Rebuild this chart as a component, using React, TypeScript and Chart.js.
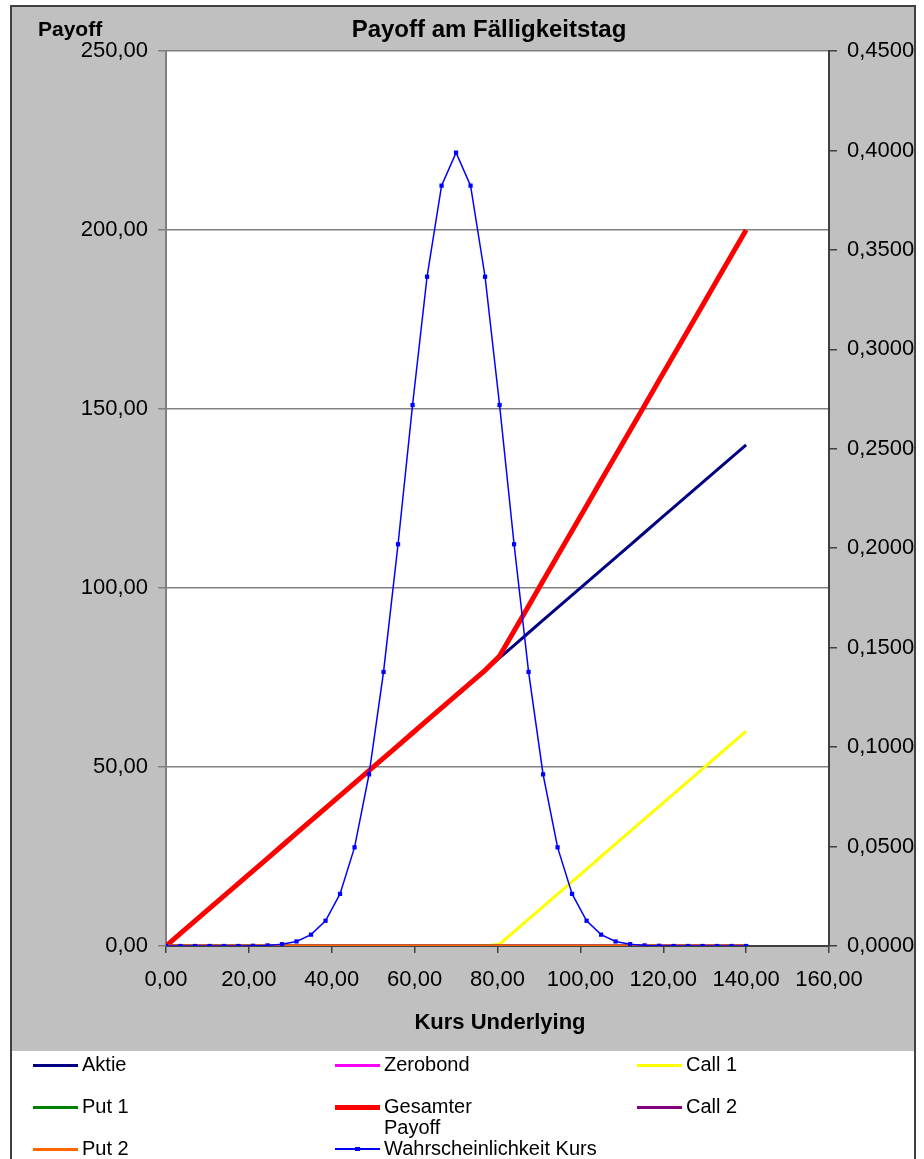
import React, { useEffect, useRef } from "react";
import { Chart, registerables } from "chart.js";

Chart.register(...registerables);

const FONT = "'Liberation Sans', Arial, sans-serif";

const kurs = [0, 3.5, 7, 10.5, 14, 17.5, 21, 24.5, 28, 31.5, 35, 38.5, 42, 45.5, 49, 52.5, 56, 59.5, 63, 66.5, 70, 73.5, 77, 80.5, 84, 87.5, 91, 94.5, 98, 101.5, 105, 108.5, 112, 115.5, 119, 122.5, 126, 129.5, 133, 136.5, 140];

const aktie = [0, 3.5, 7, 10.5, 14, 17.5, 21, 24.5, 28, 31.5, 35, 38.5, 42, 45.5, 49, 52.5, 56, 59.5, 63, 66.5, 70, 73.5, 77, 80.5, 84, 87.5, 91, 94.5, 98, 101.5, 105, 108.5, 112, 115.5, 119, 122.5, 126, 129.5, 133, 136.5, 140];

const zerobond = [0, 0, 0, 0, 0, 0, 0, 0, 0, 0, 0, 0, 0, 0, 0, 0, 0, 0, 0, 0, 0, 0, 0, 0, 0, 0, 0, 0, 0, 0, 0, 0, 0, 0, 0, 0, 0, 0, 0, 0, 0];

const call1 = [0, 0, 0, 0, 0, 0, 0, 0, 0, 0, 0, 0, 0, 0, 0, 0, 0, 0, 0, 0, 0, 0, 0, 0.5, 4, 7.5, 11, 14.5, 18, 21.5, 25, 28.5, 32, 35.5, 39, 42.5, 46, 49.5, 53, 56.5, 60];

const put1 = [0, 0, 0, 0, 0, 0, 0, 0, 0, 0, 0, 0, 0, 0, 0, 0, 0, 0, 0, 0, 0, 0, 0, 0, 0, 0, 0, 0, 0, 0, 0, 0, 0, 0, 0, 0, 0, 0, 0, 0, 0];

const gesamt = [0, 3.5, 7, 10.5, 14, 17.5, 21, 24.5, 28, 31.5, 35, 38.5, 42, 45.5, 49, 52.5, 56, 59.5, 63, 66.5, 70, 73.5, 77, 81, 88, 95, 102, 109, 116, 123, 130, 137, 144, 151, 158, 165, 172, 179, 186, 193, 200];

const call2 = [0, 0, 0, 0, 0, 0, 0, 0, 0, 0, 0, 0, 0, 0, 0, 0, 0, 0, 0, 0, 0, 0, 0, 0, 0, 0, 0, 0, 0, 0, 0, 0, 0, 0, 0, 0, 0, 0, 0, 0, 0];

const put2 = [0, 0, 0, 0, 0, 0, 0, 0, 0, 0, 0, 0, 0, 0, 0, 0, 0, 0, 0, 0, 0, 0, 0, 0, 0, 0, 0, 0, 0, 0, 0, 0, 0, 0, 0, 0, 0, 0, 0, 0, 0];

const wahrscheinlichkeit = [0, 0, 0, 0, 0, 0, 0.0001, 0.0003, 0.0009, 0.0023, 0.0057, 0.0127, 0.0262, 0.0496, 0.0863, 0.1378, 0.202, 0.272, 0.3365, 0.3823, 0.3989, 0.3823, 0.3365, 0.272, 0.202, 0.1378, 0.0863, 0.0496, 0.0262, 0.0127, 0.0057, 0.0023, 0.0009, 0.0003, 0.0001, 0, 0, 0, 0, 0, 0];

const seriesNames = ["Aktie", "Zerobond", "Call 1", "Put 1", "Gesamter Payoff", "Call 2", "Put 2", "Wahrscheinlichkeit Kurs"];
const seriesColors = ["#000080", "#FF00FF", "#FFFF00", "#008000", "#FF0000", "#800080", "#FF6600", "#0000FF"];
const seriesWidths = [3, 3, 3, 3, 5, 3, 3, 1.5];
const seriesValues = [aktie, zerobond, call1, put1, gesamt, call2, put2, wahrscheinlichkeit];

const xTicks = [0, 20, 40, 60, 80, 100, 120, 140, 160];
const titleText = "Payoff am Fälligkeitstag";
const yAxisText = "Payoff";
const xAxisText = "Kurs Underlying";

const fmt = (v: number, d: number) => Number(v).toFixed(d).replace(".", ",");

const bgPlugin = {
  id: "plotBg",
  beforeDraw(chart: any) {
    const { ctx, chartArea } = chart;
    ctx.save();
    ctx.fillStyle = "#FFFFFF";
    ctx.fillRect(chartArea.left, chartArea.top, chartArea.right - chartArea.left, chartArea.bottom - chartArea.top);
    ctx.restore();
  },
};

function ChartCanvas() {
  const ref = useRef<HTMLCanvasElement | null>(null);
  useEffect(() => {
    if (!ref.current) return;
    const datasets = seriesValues.map((vals, i) => {
      const isProb = i === 7;
      return {
        label: seriesNames[i],
        data: kurs.map((x, j) => ({ x, y: vals[j] })),
        borderColor: seriesColors[i],
        backgroundColor: seriesColors[i],
        borderWidth: seriesWidths[i],
        pointRadius: isProb ? 3 : 0,
        pointStyle: "rect",
        pointBorderWidth: 0,
        pointBackgroundColor: seriesColors[i],
        tension: 0,
        fill: false,
        yAxisID: isProb ? "y2" : "y",
        order: 7 - i,
      };
    });
    const tickFont = { family: FONT, size: 22 };
    const chart = new Chart(ref.current, {
      type: "line",
      data: { datasets },
      plugins: [bgPlugin],
      options: {
        responsive: false,
        animation: false,
        devicePixelRatio: 1,
        layout: { padding: { top: 51, left: 0, right: 0, bottom: 0 } },
        plugins: {
          legend: { display: false },
          title: { display: false },
          tooltip: { enabled: false },
        },
        scales: {
          x: {
            type: "linear",
            position: "bottom",
            min: 0,
            max: 160,
            afterBuildTicks: (s: any) => {
              s.ticks = xTicks.map((v) => ({ value: v }));
            },
            ticks: {
              color: "#000",
              font: tickFont,
              padding: 14,
              maxRotation: 0,
              autoSkip: false,
              callback: (v: any) => fmt(v, 2),
            },
            grid: { drawOnChartArea: false, drawTicks: true, tickLength: 7, color: "#404040", lineWidth: 1.5 },
            border: { color: "#404040", width: 2 },
            afterFit: (s: any) => {
              s.height = 213;
            },
          },
          y: {
            position: "left",
            min: 0,
            max: 250,
            ticks: {
              stepSize: 50,
              color: "#000",
              font: tickFont,
              padding: 10,
              callback: (v: any) => fmt(v, 2),
            },
            grid: { color: "#808080", lineWidth: 1.5, tickLength: 8, drawTicks: true },
            border: { color: "#808080", width: 2 },
            afterFit: (s: any) => {
              s.width = 166;
            },
          },
          y2: {
            position: "right",
            min: 0,
            max: 0.45,
            ticks: {
              stepSize: 0.05,
              color: "#000",
              font: tickFont,
              padding: 10,
              callback: (v: any) => fmt(v, 4),
            },
            grid: { drawOnChartArea: false, drawTicks: true, tickLength: 8, color: "#404040", lineWidth: 1.5 },
            border: { color: "#404040", width: 2 },
            afterFit: (s: any) => {
              s.width = 95;
            },
          },
        },
      } as any,
    });
    return () => chart.destroy();
  }, []);
  return (
    <canvas
      ref={ref}
      width={924}
      height={1159}
      style={{ position: "absolute", left: 0, top: 0, width: 924, height: 1159 }}
    />
  );
}

function LegendItem({ i, left, top }: { i: number; left: number; top: number }) {
  const name = seriesNames[i];
  const isProb = i === 7;
  return (
    <div style={{ position: "absolute", left, top: top - 12, height: 24, width: 280 }}>
      <div
        style={{
          position: "absolute",
          left: 0,
          top: 12 - seriesWidths[i] / 2,
          width: 45,
          height: seriesWidths[i],
          background: seriesColors[i],
        }}
      />
      {isProb && (
        <div style={{ position: "absolute", left: 20, top: 10, width: 5, height: 4, background: seriesColors[i] }} />
      )}
      <div
        style={{
          position: "absolute",
          left: 49,
          top: 1,
          fontFamily: FONT,
          fontSize: 20,
          lineHeight: "21px",
          color: "#000",
          whiteSpace: "nowrap",
        }}
      >
        {name === "Gesamter Payoff" ? (
          <>
            Gesamter
            <br />
            Payoff
          </>
        ) : (
          name
        )}
      </div>
    </div>
  );
}

export default function App() {
  const cols = [33, 335, 637];
  const rows = [1065, 1107, 1149];
  return (
    <div style={{ position: "absolute", left: 0, top: 0, width: 924, height: 1159, overflow: "hidden", background: "#FFFFFF" }}>
      <div
        style={{
          position: "absolute",
          left: 10,
          top: 5,
          width: 905,
          height: 1046,
          background: "#C0C0C0",
          borderTop: "2px solid #404040",
          boxSizing: "border-box",
        }}
      />
      <div style={{ position: "absolute", left: 10, top: 5, width: 2, height: 1160, background: "#404040" }} />
      <div style={{ position: "absolute", left: 914, top: 5, width: 2, height: 1160, background: "#404040" }} />
      <ChartCanvas />
      <div
        style={{
          position: "absolute",
          left: 38,
          top: 18,
          fontFamily: FONT,
          fontWeight: "bold",
          fontSize: 21,
          lineHeight: "22px",
        }}
      >
        {yAxisText}
      </div>
      <div
        style={{
          position: "absolute",
          left: 289,
          width: 400,
          textAlign: "center",
          top: 17,
          fontFamily: FONT,
          fontWeight: "bold",
          fontSize: 24,
          lineHeight: "24px",
        }}
      >
        {titleText}
      </div>
      <div
        style={{
          position: "absolute",
          left: 300,
          width: 400,
          textAlign: "center",
          top: 1011,
          fontFamily: FONT,
          fontWeight: "bold",
          fontSize: 22,
          lineHeight: "22px",
        }}
      >
        {xAxisText}
      </div>
      <LegendItem i={0} left={cols[0]} top={rows[0]} />
      <LegendItem i={1} left={cols[1]} top={rows[0]} />
      <LegendItem i={2} left={cols[2]} top={rows[0]} />
      <LegendItem i={3} left={cols[0]} top={rows[1]} />
      <LegendItem i={4} left={cols[1]} top={rows[1]} />
      <LegendItem i={5} left={cols[2]} top={rows[1]} />
      <LegendItem i={6} left={cols[0]} top={rows[2]} />
      <LegendItem i={7} left={cols[1]} top={rows[2]} />
    </div>
  );
}
